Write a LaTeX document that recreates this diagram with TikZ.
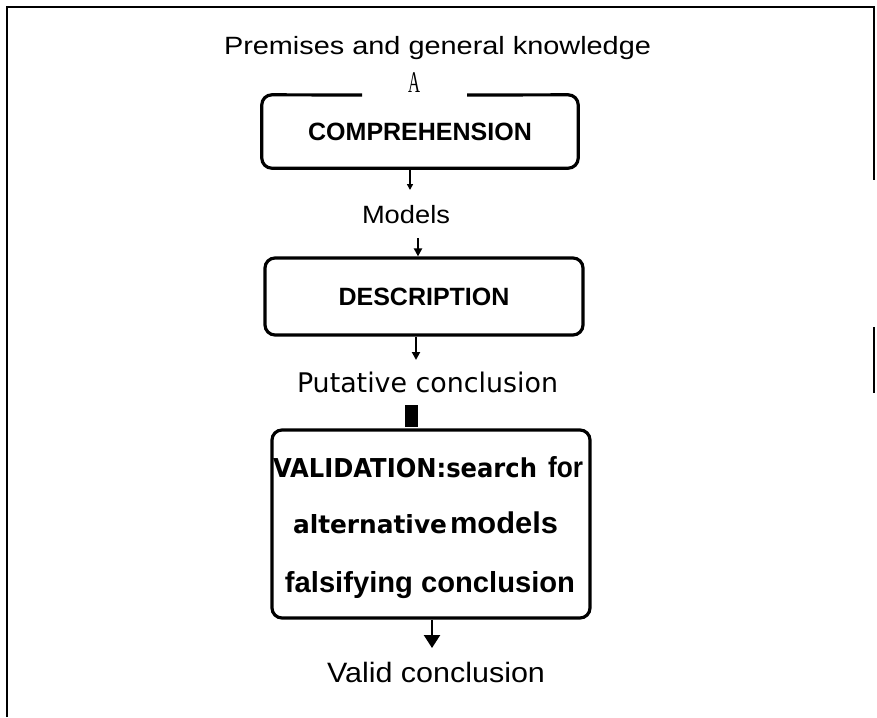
\documentclass[tikz,border=0pt]{standalone}
\usepackage{fontspec}
\setmainfont{Liberation Sans}
\newfontfamily\pixfont{DejaVu Sans}
\newfontfamily\serifA{Liberation Serif}
\usetikzlibrary{arrows.meta}
\newcommand\fitw[2]{\resizebox{#1}{\height}{#2}}
\tikzset{
  boxline/.style={line width=3.2pt, rounded corners=10pt},
  boxarea/.style={inner sep=0pt},
  lbl/.style={inner sep=0pt, anchor=base},
  conn/.style={line width=2pt, -{Triangle[width=8pt,length=8pt]}},
  smalltip/.style={-{Triangle[width=6pt,length=6pt]}},
  bigtip/.style={line width=2.4pt, -{Triangle[width=16pt,length=13pt]}},
  framed/.style={line width=2.5pt},
}
\begin{document}
\begin{tikzpicture}[x=1pt,y=-1pt]
\useasboundingbox (0,0) rectangle (877,717);
% frame
\draw[framed] (7,717) -- (7,7) -- (874,7) -- (874,180);
\draw[framed] (874,327) -- (874,393);

% top text
\node[lbl] (premises) at (437.5,55) {\fontsize{25}{30}\selectfont\fitw{427pt}{Premises and general knowledge}};
\node[lbl] (A) at (414,92) {\serifA\fontsize{30}{36}\selectfont\fitw{12pt}{A}};

% COMPREHENSION
\node[boxarea, minimum width=316pt, minimum height=73pt] (comp) at (420,131.5) {\bfseries\fontsize{25}{30}\selectfont COMPREHENSION};
\coordinate (gapL) at (362,95);
\coordinate (gapR) at (467,95);
\draw[boxline] (gapR) -- (comp.north east) -- (comp.south east) -- (comp.south west) -- (comp.north west) -- (gapL);

\coordinate (a1end) at (410,190);
\draw[conn, smalltip] (comp.south -| a1end) -- (a1end);

\node[lbl] (models) at (406,223) {\fontsize{25}{30}\selectfont\fitw{88pt}{Models}};

% DESCRIPTION
\node[boxarea, draw, boxline, minimum width=318pt, minimum height=77pt] (desc) at (424,296.5) {\bfseries\fontsize{25}{30}\selectfont DESCRIPTION};
\coordinate (a2start) at (418,238);
\draw[conn] (a2start) -- (a2start |- desc.north);

\coordinate (a3end) at (416,360);
\draw[conn] (desc.south -| a3end) -- (a3end);

\node[lbl] (putative) at (427.5,392) {\pixfont\fontsize{27}{32}\selectfont\fitw{261pt}{Putative conclusion}};

\node[fill=black, minimum width=13pt, minimum height=22pt, inner sep=0pt] (blob) at (411.5,416) {};

% VALIDATION
\node[boxarea, draw, boxline, minimum width=318pt, minimum height=188pt] (valid) at (431,524) {};
\node[lbl] (v1) at (405,477) {\pixfont\bfseries\fontsize{26}{30}\selectfont\fitw{264pt}{VALIDATION:search}};
\node[lbl] (v1b) at (565.5,477) {\bfseries\fontsize{29}{34}\selectfont\fitw{35pt}{for}};
\node[lbl] (v2) at (370,533) {\pixfont\bfseries\fontsize{25}{30}\selectfont\fitw{154pt}{alternative}};
\node[lbl] (v2b) at (504,533) {\bfseries\fontsize{30}{34}\selectfont\fitw{108pt}{models}};
\node[lbl] (v3) at (430,592) {\bfseries\fontsize{29}{34}\selectfont\fitw{290pt}{falsifying conclusion}};

\coordinate (a4end) at (432,648);
\draw[conn, bigtip] (valid.south -| a4end) -- (a4end);

\node[lbl] (validc) at (436,682) {\fontsize{28}{34}\selectfont\fitw{218pt}{Valid conclusion}};
\end{tikzpicture}
\end{document}
